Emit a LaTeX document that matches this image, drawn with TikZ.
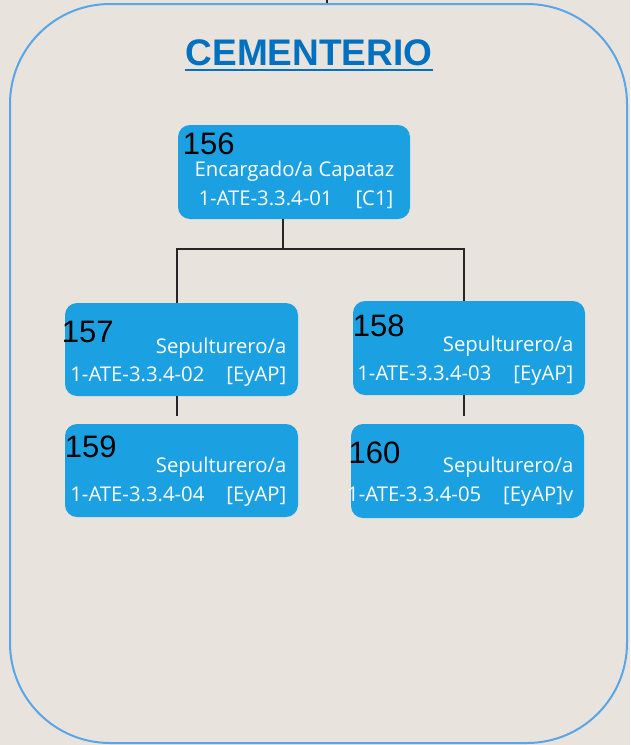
\documentclass[tikz,border=0pt]{standalone}
\usepackage{fontspec}
\newfontfamily\numfont{Liberation Sans}
\newfontfamily\bodyfont{Open Sans}
\usetikzlibrary{calc}
\definecolor{bgc}{HTML}{E8E4DD}
\definecolor{framec}{HTML}{5AA5E8}
\definecolor{boxc}{HTML}{1BA1E2}
\definecolor{titlec}{HTML}{0070C0}
\tikzset{
  posbox/.style={fill=boxc, draw=none, rounded corners=12pt, inner sep=0pt, minimum width=233pt, minimum height=93pt},
  numtxt/.style={inner sep=0pt, anchor=base west, text=black, font=\numfont\fontsize{31}{34}\selectfont},
  bodytxt/.style={inner sep=0pt, anchor=base east, text=white, font=\bodyfont\fontsize{20.3}{24}\selectfont},
  conn/.style={draw=black!85, line width=1.1pt},
}
\begin{document}
\begin{tikzpicture}[x=1pt,y=-1pt]
\useasboundingbox[fill=bgc] (0,0) rectangle (630,745);
\node[draw=framec, line width=2pt, rounded corners=100pt, minimum width=617pt, minimum height=739pt, inner sep=0pt] (frame) at (318.5,373.5) {};
\coordinate (top) at (327,0);
\draw[conn] (top) -- (top |- frame.north);
% title
\node[inner sep=0pt, anchor=base, text=titlec, font=\numfont\bfseries\fontsize{37}{40}\selectfont] (title) at (309,65.5) {CEMENTERIO};
\draw[titlec, line width=2pt] ([yshift=-4.5pt]title.base west) -- ([yshift=-4.5pt]title.base east);
% boxes
\node[posbox, minimum width=232pt, minimum height=94pt] (b156) at (294,172) {};
\node[posbox] (b157) at (181.5,349.5) {};
\node[posbox, minimum width=232pt, minimum height=94pt] (b158) at (469,348) {};
\node[posbox] (b159) at (181.5,470.5) {};
\node[posbox, minimum height=94pt] (b160) at (467.5,471) {};
% connectors
\coordinate (cA) at (283,249);
\coordinate (jl) at (177,249);
\coordinate (jr) at (464,249);
\draw[conn] (b156.south -| cA) -- (cA);
\draw[conn] (b157.north -| jl) |- (jr) -- (b158.north -| jr);
\draw[conn, shorten >=8pt] (b157.south -| jl) -- (b159.north -| jl);
\draw[conn, shorten >=8pt] (b158.south -| jr) -- (b160.north -| jr);
% texts 156
\node[numtxt] (n156) at (182.7,154) {156};
\node[bodytxt] (a156) at (394.5,176.7) {Encargado/a Capataz};
\node[bodytxt] (c156) at (393.5,205) {1-ATE-3.3.4-01\hspace{23pt}[C1]};
% 157
\node[numtxt] (n157) at (61.7,342) {157};
\node[bodytxt] (a157) at (286.5,353.3) {Sepulturero/a};
\node[bodytxt] (c157) at (286.5,381.7) {1-ATE-3.3.4-02\hspace{22pt}[EyAP]};
% 158
\node[numtxt] (n158) at (352.7,336) {158};
\node[bodytxt] (a158) at (573.5,351.7) {Sepulturero/a};
\node[bodytxt] (c158) at (573.5,380) {1-ATE-3.3.4-03\hspace{22pt}[EyAP]};
% 159
\node[numtxt] (n159) at (64.7,457.5) {159};
\node[bodytxt] (a159) at (286.5,472.7) {Sepulturero/a};
\node[bodytxt] (c159) at (286.5,501.7) {1-ATE-3.3.4-04\hspace{22pt}[EyAP]};
% 160
\node[numtxt] (n160) at (348.4,463) {160};
\node[bodytxt] (a160) at (573.5,472.7) {Sepulturero/a};
\node[bodytxt] (c160) at (573.5,501.7) {1-ATE-3.3.4-05\hspace{22pt}[EyAP]v};
\end{tikzpicture}
\end{document}
